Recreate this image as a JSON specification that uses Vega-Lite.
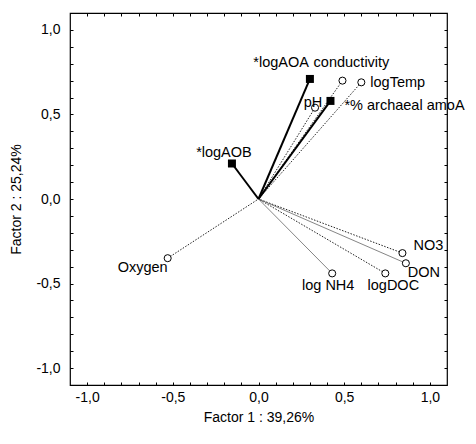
{
  "$schema": "https://vega.github.io/schema/vega-lite/v6.json",
  "width": 377,
  "height": 372,
  "autosize": "none",
  "padding": {"left": 70, "top": 13, "right": 29, "bottom": 59},
  "background": "white",
  "config": {
    "font": "Liberation Sans",
    "view": {"stroke": "black", "strokeWidth": 1.2},
    "axis": {
      "domain": false,
      "grid": false,
      "tickColor": "black",
      "tickWidth": 1,
      "labelFontSize": 14,
      "labelColor": "black",
      "labelOverlap": false,
      "labelFlush": false,
      "titleFontSize": 14,
      "titleFontWeight": "normal",
      "titleColor": "black"
    }
  },
  "data": {
    "values": [
      {"variable": "*logAOA", "factor1": 0.30, "factor2": 0.71, "starred": true},
      {"variable": "*% archaeal amoA", "factor1": 0.42, "factor2": 0.58, "starred": true},
      {"variable": "*logAOB", "factor1": -0.155, "factor2": 0.21, "starred": true},
      {"variable": "conductivity", "factor1": 0.49, "factor2": 0.70, "starred": false},
      {"variable": "logTemp", "factor1": 0.60, "factor2": 0.69, "starred": false},
      {"variable": "pH", "factor1": 0.33, "factor2": 0.54, "starred": false},
      {"variable": "Oxygen", "factor1": -0.53, "factor2": -0.35, "starred": false},
      {"variable": "log NH4", "factor1": 0.43, "factor2": -0.44, "starred": false},
      {"variable": "logDOC", "factor1": 0.74, "factor2": -0.44, "starred": false},
      {"variable": "NO3", "factor1": 0.84, "factor2": -0.32, "starred": false},
      {"variable": "DON", "factor1": 0.86, "factor2": -0.38, "starred": false}
    ]
  },
  "resolve": {"axis": {"x": "independent", "y": "independent"}},
  "layer": [
    {
      "transform": [{"filter": "!datum.starred && datum.variable !== 'log NH4' && datum.variable !== 'DON'"}],
      "mark": {"type": "rule", "color": "#222", "strokeWidth": 1, "strokeDash": [1.5, 1.5]},
      "encoding": {
        "x": {"field": "factor1", "type": "quantitative", "scale": {"domain": [-1.1, 1.1], "nice": false, "zero": false},
              "axis": {"orient": "top", "labels": false, "title": null, "ticks": true, "tickSize": 3, "offset": -3,
                       "values": [-1.0, -0.9, -0.8, -0.7, -0.6, -0.5, -0.4, -0.3, -0.2, -0.1, 0, 0.1, 0.2, 0.3, 0.4, 0.5, 0.6, 0.7, 0.8, 0.9, 1.0]}},
        "y": {"field": "factor2", "type": "quantitative", "scale": {"domain": [-1.1, 1.1], "nice": false, "zero": false},
              "axis": {"orient": "right", "labels": false, "title": null, "ticks": true, "tickSize": 3, "offset": -3,
                       "values": [-1.0, -0.9, -0.8, -0.7, -0.6, -0.5, -0.4, -0.3, -0.2, -0.1, 0, 0.1, 0.2, 0.3, 0.4, 0.5, 0.6, 0.7, 0.8, 0.9, 1.0]}},
        "x2": {"datum": 0},
        "y2": {"datum": 0}
      }
    },
    {
      "transform": [{"filter": "datum.variable === 'log NH4' || datum.variable === 'DON'"}],
      "mark": {"type": "rule", "color": "#666", "strokeWidth": 0.8},
      "encoding": {
        "x": {"field": "factor1", "type": "quantitative", "axis": null},
        "y": {"field": "factor2", "type": "quantitative", "axis": null},
        "x2": {"datum": 0},
        "y2": {"datum": 0}
      }
    },
    {
      "transform": [{"filter": "datum.starred"}],
      "mark": {"type": "rule", "color": "black", "strokeWidth": 2},
      "encoding": {
        "x": {"field": "factor1", "type": "quantitative", "axis": null},
        "y": {"field": "factor2", "type": "quantitative", "axis": null},
        "x2": {"datum": 0},
        "y2": {"datum": 0}
      }
    },
    {
      "transform": [{"filter": "!datum.starred"}],
      "mark": {"type": "point", "shape": "circle", "size": 50, "filled": false, "fill": "white", "fillOpacity": 1, "stroke": "black", "strokeWidth": 1, "opacity": 1},
      "encoding": {
        "x": {"field": "factor1", "type": "quantitative",
              "axis": {"orient": "bottom", "ticks": true, "tickSize": 3, "offset": -3, "labelPadding": 5,
                       "title": "Factor 1 : 39,26%", "titlePadding": 6,
                       "values": [-1.0, -0.9, -0.8, -0.7, -0.6, -0.5, -0.4, -0.3, -0.2, -0.1, 0, 0.1, 0.2, 0.3, 0.4, 0.5, 0.6, 0.7, 0.8, 0.9, 1.0],
                       "labelExpr": "abs(datum.value * 2 - round(datum.value * 2)) < 0.001 ? (datum.value < -0.001 ? '-' : '') + replace(format(abs(datum.value), '.1f'), '.', ',') : ''"}},
        "y": {"field": "factor2", "type": "quantitative",
              "axis": {"orient": "left", "ticks": true, "tickSize": 3, "offset": -3, "labelPadding": 10,
                       "title": "Factor 2 : 25,24%", "titlePadding": 12,
                       "values": [-1.0, -0.9, -0.8, -0.7, -0.6, -0.5, -0.4, -0.3, -0.2, -0.1, 0, 0.1, 0.2, 0.3, 0.4, 0.5, 0.6, 0.7, 0.8, 0.9, 1.0],
                       "labelExpr": "abs(datum.value * 2 - round(datum.value * 2)) < 0.001 ? (datum.value < -0.001 ? '-' : '') + replace(format(abs(datum.value), '.1f'), '.', ',') : ''"}}
      }
    },
    {
      "transform": [{"filter": "datum.starred"}],
      "mark": {"type": "square", "size": 64, "color": "black", "opacity": 1},
      "encoding": {
        "x": {"field": "factor1", "type": "quantitative", "axis": null},
        "y": {"field": "factor2", "type": "quantitative", "axis": null}
      }
    },
    {
      "encoding": {
        "x": {"field": "factor1", "type": "quantitative", "axis": null},
        "y": {"field": "factor2", "type": "quantitative", "axis": null},
        "text": {"field": "variable"}
      },
      "layer": [
        {"transform": [{"filter": "datum.variable === '*logAOA'"}], "mark": {"type": "text", "fontSize": 14.5, "align": "right", "baseline": "middle", "dx": -1, "dy": -16}},
        {"transform": [{"filter": "datum.variable === 'conductivity'"}], "mark": {"type": "text", "fontSize": 14.5, "align": "center", "baseline": "middle", "dx": 9, "dy": -18}},
        {"transform": [{"filter": "datum.variable === 'logTemp'"}], "mark": {"type": "text", "fontSize": 14.5, "align": "left", "baseline": "middle", "dx": 9, "dy": 1}},
        {"transform": [{"filter": "datum.variable === 'pH'"}], "mark": {"type": "text", "fontSize": 14.5, "align": "center", "baseline": "middle", "dx": -2, "dy": -5}},
        {"transform": [{"filter": "datum.variable === '*% archaeal amoA'"}], "mark": {"type": "text", "fontSize": 14.5, "align": "left", "baseline": "middle", "dx": 14, "dy": 5}},
        {"transform": [{"filter": "datum.variable === '*logAOB'"}], "mark": {"type": "text", "fontSize": 14.5, "align": "center", "baseline": "middle", "dx": -8, "dy": -10}},
        {"transform": [{"filter": "datum.variable === 'Oxygen'"}], "mark": {"type": "text", "fontSize": 14.5, "align": "right", "baseline": "middle", "dx": 0, "dy": 10}},
        {"transform": [{"filter": "datum.variable === 'log NH4'"}], "mark": {"type": "text", "fontSize": 14.5, "align": "center", "baseline": "middle", "dx": -4, "dy": 13}},
        {"transform": [{"filter": "datum.variable === 'logDOC'"}], "mark": {"type": "text", "fontSize": 14.5, "align": "center", "baseline": "middle", "dx": 8, "dy": 13}},
        {"transform": [{"filter": "datum.variable === 'NO3'"}], "mark": {"type": "text", "fontSize": 14.5, "align": "left", "baseline": "middle", "dx": 11, "dy": -7}},
        {"transform": [{"filter": "datum.variable === 'DON'"}], "mark": {"type": "text", "fontSize": 14.5, "align": "left", "baseline": "middle", "dx": 2, "dy": 10}}
      ]
    }
  ]
}
